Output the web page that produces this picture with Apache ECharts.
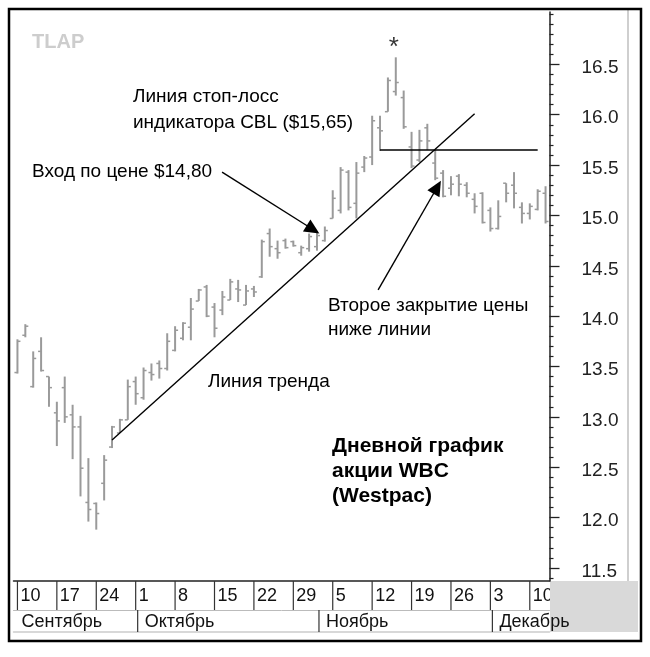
<!DOCTYPE html>
<html><head><meta charset="utf-8">
<script src="https://cdn.jsdelivr.net/npm/echarts@6/dist/echarts.min.js"></script>
<style>html,body{margin:0;padding:0;background:#fff}#c{width:650px;height:657px}</style>
</head><body><div id="c"></div>
<script>
const FONT = '"Liberation Sans", Arial, sans-serif';

// trading days (category index = position)
const dates = ['10.09','11.09','12.09','13.09','14.09','17.09','18.09','19.09','20.09','21.09','24.09','25.09','26.09','27.09','28.09',
  '01.10','02.10','03.10','04.10','05.10','08.10','09.10','10.10','11.10','12.10','15.10','16.10','17.10','18.10','19.10',
  '22.10','23.10','24.10','25.10','26.10','29.10','30.10','31.10',
  '01.11','02.11','05.11','06.11','07.11','08.11','09.11','12.11','13.11','14.11','15.11','16.11','19.11','20.11','21.11','22.11','23.11',
  '26.11','27.11','28.11','29.11','30.11',
  '03.12','04.12','05.12','06.12','07.12','10.12','11.12','12.12'];

const opens  = [13.44,13.81,13.30,13.65,13.40,13.04,13.29,13.02,12.90,12.15,12.14,12.34,12.70,12.84,12.97,13.35,13.19,13.44,13.53,13.48,13.66,13.78,13.89,14.15,14.29,14.09,14.06,14.16,14.27,14.11,14.27,14.39,14.82,14.67,14.75,14.74,14.63,14.67,14.69,14.75,14.97,15.05,15.43,15.12,15.48,15.58,15.87,16.03,16.23,16.17,15.68,15.55,15.87,15.52,15.42,15.27,15.39,15.30,15.16,15.22,15.05,14.87,15.32,15.30,15.08,15.02,15.06,15.22];
const highs  = [13.77,13.92,13.65,13.79,13.40,13.15,13.40,13.12,13.01,12.59,12.15,12.62,12.91,12.98,13.37,13.40,13.49,13.53,13.56,13.83,13.90,13.94,14.18,14.27,14.31,14.13,14.25,14.37,14.36,14.31,14.30,14.76,14.87,14.75,14.77,14.75,14.70,14.82,14.83,14.89,15.25,15.48,15.45,15.53,15.59,15.99,15.99,16.37,16.57,16.24,15.83,15.85,15.91,15.65,15.45,15.39,15.41,15.33,15.22,15.23,15.08,15.15,15.32,15.43,15.13,15.12,15.26,15.29];
const lows   = [13.43,13.79,13.29,13.45,13.10,12.71,12.94,12.58,12.21,11.96,11.88,12.17,12.69,12.84,12.97,13.12,13.17,13.36,13.38,13.46,13.65,13.76,13.76,14.15,13.99,13.79,14.01,14.16,14.14,14.11,14.19,14.38,14.59,14.57,14.67,14.69,14.60,14.64,14.65,14.74,14.97,15.02,15.05,14.97,15.43,15.50,15.64,16.03,16.19,15.86,15.47,15.53,15.65,15.35,15.18,15.20,15.19,15.18,15.02,14.92,14.84,14.86,15.13,15.07,14.92,14.96,15.05,14.92];
const closes = [13.75,13.90,13.58,13.46,13.29,12.96,13.00,12.90,12.49,12.08,12.04,12.57,12.90,12.97,13.30,13.23,13.46,13.42,13.48,13.75,13.86,13.93,14.07,14.26,14.00,13.88,14.19,14.34,14.26,14.25,14.24,14.74,14.69,14.63,14.68,14.70,14.68,14.79,14.80,14.85,15.17,15.45,15.08,15.42,15.57,15.94,15.84,16.34,16.32,15.88,15.49,15.74,15.74,15.37,15.19,15.31,15.31,15.22,15.09,14.93,14.87,14.99,15.22,15.22,15.02,15.09,15.24,14.94];

// weekly date labels (Mondays) and months
const weekIdx    = [0,5,10,15,20,25,30,35,40,45,50,55,60,65];
const weekLabels = ['10','17','24','1','8','15','22','29','5','12','19','26','3','10'];
const monthIdx    = [0,15,38,60];
const monthLabels = ['Сентябрь','Октябрь','Ноябрь','Декабрь'];

// price axis ticks
const majorTicks = [11.5,12.0,12.5,13.0,13.5,14.0,14.5,15.0,15.5,16.0,16.5];
const minorTicks = [11.4,11.6,11.7,11.8,11.9,12.1,12.2,12.3,12.4,12.6,12.7,12.8,12.9,13.1,13.2,13.3,13.4,13.6,13.7,13.8,13.9,
  14.1,14.2,14.3,14.4,14.6,14.7,14.8,14.9,15.1,15.2,15.3,15.4,15.6,15.7,15.8,15.9,16.1,16.2,16.3,16.4,16.6,16.7,16.8,16.9,17.0];

// annotation lines (index, price)
const trendLine = [[12, 12.77], [58, 16.01]];
const stopLine  = [[46, 15.65], [66, 15.65]];
const arrowEntry  = [[25.96, 15.43], [37.5, 14.86]];
const arrowSecond = [[45.76, 14.26], [53.25, 15.28]];
const peakMark = [[48, 16.57]];

const ohlcData = dates.map((d, i) => [i, opens[i], highs[i], lows[i], closes[i]]);

function renderOHLC(params, api) {
  const i = api.value(0);
  const o = api.coord([i, api.value(1)]);
  const h = api.coord([i, api.value(2)]);
  const l = api.coord([i, api.value(3)]);
  const c = api.coord([i, api.value(4)]);
  const col = '#9a9a9a';
  return {type: 'group', children: [
    {type: 'line', shape: {x1: h[0], y1: h[1], x2: l[0], y2: l[1]}, style: {stroke: col, lineWidth: 2}},
    {type: 'line', shape: {x1: o[0] - 3, y1: o[1], x2: o[0], y2: o[1]}, style: {stroke: col, lineWidth: 1.5}},
    {type: 'line', shape: {x1: c[0], y1: c[1], x2: c[0] + 3, y2: c[1]}, style: {stroke: col, lineWidth: 1.5}}
  ]};
}

function renderWeek(params, api) {
  const i = api.value(0), k = api.value(1);
  const t = api.coord([i, 1]), b = api.coord([i, 0]);
  return {type: 'group', children: [
    {type: 'line', shape: {x1: t[0], y1: t[1], x2: b[0], y2: b[1]}, style: {stroke: '#333', lineWidth: 1.2}},
    {type: 'text', x: t[0] + 3, y: (t[1] + b[1]) / 2 + 1,
     style: {text: weekLabels[k], fill: '#111', fontSize: 18, fontFamily: FONT, align: 'left', verticalAlign: 'middle'}}
  ]};
}

function renderMonth(params, api) {
  const i = api.value(0), k = api.value(1);
  const t = api.coord([i, 1]), b = api.coord([i, 0]);
  const ch = [];
  if (k > 0) ch.push({type: 'line', shape: {x1: t[0] + 2, y1: t[1], x2: b[0] + 2, y2: b[1]}, style: {stroke: '#333', lineWidth: 1.2}});
  ch.push({type: 'text', x: t[0] + (k > 0 ? 9 : 4), y: (t[1] + b[1]) / 2 + 1,
    style: {text: monthLabels[k], fill: '#111', fontSize: 18, fontFamily: FONT, align: 'left', verticalAlign: 'middle'}});
  return {type: 'group', children: ch};
}

const chart = echarts.init(document.getElementById('c'), null, {renderer: 'canvas'});
const txt = (x, y, s, extra) => Object.assign({type: 'text', x: x, y: y, z: 20,
  style: Object.assign({text: s, fill: '#000', fontSize: 19, fontFamily: FONT, align: 'left', verticalAlign: 'middle'}, extra || {})});

const hiddenX = (g) => ({gridIndex: g, type: 'value', min: -0.5, max: 67.5, axisLine: {show: false, onZero: false}, axisTick: {show: false}, axisLabel: {show: false}, splitLine: {show: false}});

chart.setOption({
  animation: false,
  backgroundColor: '#fff',
  grid: [
    {left: 13.5, right: 100.5, top: 12, bottom: 76},
    {left: 13.5, right: 100.5, top: 581, height: 29},
    {left: 13.5, right: 100.5, top: 610, height: 22},
    {left: 13.5, right: 100.5, top: 12, bottom: 76}
  ],
  xAxis: [
    {gridIndex: 0, type: 'value', min: -0.5, max: 67.5, axisLine: {show: true, onZero: false, lineStyle: {color: '#222', width: 1.5}},
     axisTick: {show: false}, axisLabel: {show: false}, splitLine: {show: false}},
    {gridIndex: 1, type: 'value', min: -0.5, max: 67.5, axisLine: {show: true, onZero: false, lineStyle: {color: '#bbb', width: 1}},
     axisTick: {show: false}, axisLabel: {show: false}, splitLine: {show: false}},
    {gridIndex: 2, type: 'value', min: -0.5, max: 67.5, axisLine: {show: true, onZero: false, lineStyle: {color: '#ccc', width: 1.5}},
     axisTick: {show: false}, axisLabel: {show: false}, splitLine: {show: false}},
    hiddenX(3)
  ],
  yAxis: [
    {gridIndex: 0, type: 'value', position: 'right', min: 11.37, max: 17.02, splitLine: {show: false},
     axisLine: {show: true, onZero: false, lineStyle: {color: '#222', width: 1.5}},
     axisTick: {show: true, inside: false, length: 10, customValues: majorTicks, lineStyle: {color: '#222', width: 1.3}},
     axisLabel: {show: true, customValues: majorTicks, margin: 32, color: '#222', fontFamily: FONT,
       formatter: v => '{a|' + v.toFixed(1) + '}',
       rich: {a: {fontSize: 19, fontFamily: FONT, color: '#222', padding: [7, 0, 0, 0]}}}},
    {gridIndex: 1, type: 'value', min: 0, max: 1, show: false},
    {gridIndex: 2, type: 'value', min: 0, max: 1, show: false},
    {gridIndex: 3, type: 'value', position: 'right', min: 11.37, max: 17.02, splitLine: {show: false},
     axisLine: {show: false, onZero: false},
     axisTick: {show: true, inside: false, length: 4, customValues: minorTicks, lineStyle: {color: '#222', width: 1.2}},
     axisLabel: {show: false}}
  ],
  series: [
    {type: 'custom', name: 'WBC', xAxisIndex: 0, yAxisIndex: 0, data: ohlcData, renderItem: renderOHLC,
     encode: {x: 0, y: [1, 2, 3, 4]}, z: 2, silent: true},
    {type: 'line', name: 'trend', xAxisIndex: 0, yAxisIndex: 0, data: trendLine, symbol: 'none', z: 4,
     lineStyle: {color: '#000', width: 1.4}, silent: true,
     markLine: {silent: true, symbol: ['none', 'triangle'], symbolSize: [14, 15], animation: false,
       lineStyle: {color: '#000', width: 1.4, type: 'solid'}, label: {show: false}, emphasis: {disabled: true},
       data: [
         [{coord: arrowEntry[0]}, {coord: arrowEntry[1]}],
         [{coord: arrowSecond[0]}, {coord: arrowSecond[1]}]
       ]}},
    {type: 'line', name: 'stop', xAxisIndex: 0, yAxisIndex: 0, data: stopLine, symbol: 'none', z: 4,
     lineStyle: {color: '#000', width: 1.5}, silent: true},
    {type: 'scatter', name: 'peak', xAxisIndex: 0, yAxisIndex: 0, data: peakMark, symbolSize: 1, itemStyle: {color: 'rgba(0,0,0,0)'},
     label: {show: true, formatter: '*', position: 'top', distance: 2, offset: [-2, 6], color: '#000', fontSize: 26, fontFamily: FONT}},
    {type: 'custom', name: 'weeks', xAxisIndex: 1, yAxisIndex: 1, data: weekIdx.map((d, k) => [d, k]),
     renderItem: renderWeek, clip: true, z: 3, silent: true},
    {type: 'custom', name: 'months', xAxisIndex: 2, yAxisIndex: 2, data: monthIdx.map((d, k) => [d, k]),
     renderItem: renderMonth, clip: false, z: 3, silent: true}
  ],
  graphic: [
    {type: 'rect', z: 0, shape: {x: 550, y: 581, width: 88, height: 51}, style: {fill: '#d9d9d9'}},
    {type: 'line', z: 1, shape: {x1: 628, y1: 10, x2: 628, y2: 581}, style: {stroke: '#cfcfcf', lineWidth: 2}},
    {type: 'rect', z: 30, shape: {x: 9, y: 9, width: 632, height: 632}, style: {fill: 'none', stroke: '#000', lineWidth: 2.5}},
    txt(32, 42, 'TLAP', {fill: '#cdcdcd', fontWeight: 'bold', fontSize: 20}),
    txt(133, 97, 'Линия стоп-лосс'),
    txt(133, 123, 'индикатора CBL ($15,65)'),
    txt(32, 172, 'Вход по цене $14,80'),
    txt(328, 306, 'Второе закрытие цены'),
    txt(328, 330, 'ниже линии'),
    txt(208, 382, 'Линия тренда'),
    txt(332, 446, 'Дневной график', {fontWeight: 'bold', fontSize: 21}),
    txt(332, 471, 'акции WBC', {fontWeight: 'bold', fontSize: 21}),
    txt(332, 496, '(Westpac)', {fontWeight: 'bold', fontSize: 21})
  ]
});
</script></body></html>
